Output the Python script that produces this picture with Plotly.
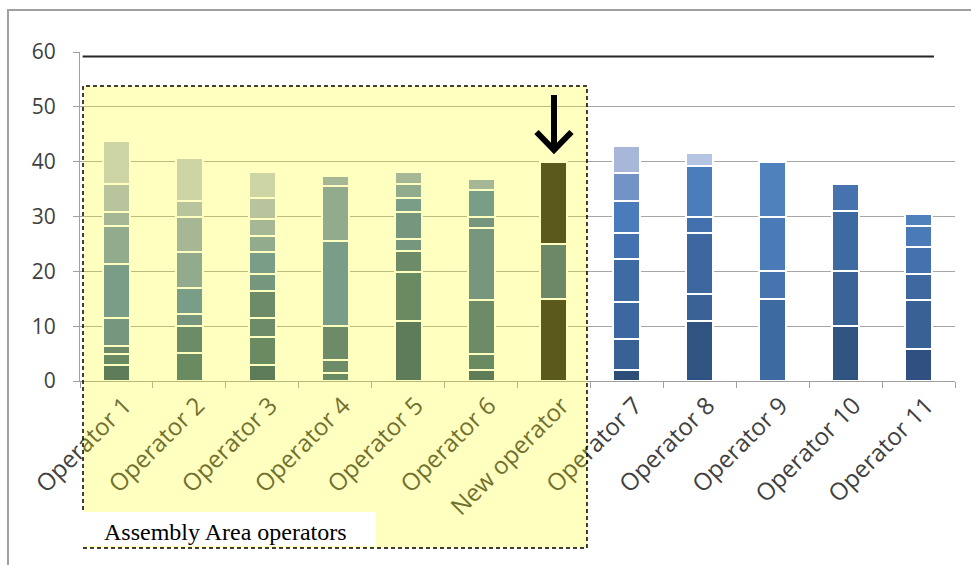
import plotly.graph_objects as go

categories = ["Operator 1", "Operator 2", "Operator 3", "Operator 4", "Operator 5",
              "Operator 6", "New operator", "Operator 7", "Operator 8", "Operator 9",
              "Operator 10", "Operator 11"]

# stacked segment values for each operator (bottom to top)
op1 = [2.9, 2.1, 1.4, 5.1, 9.9, 6.8, 2.7, 5.1, 7.8]
op2 = [5.1, 5.0, 2.2, 4.7, 6.5, 6.5, 2.9, 7.8]
op3 = [3.0, 5.0, 3.5, 5.0, 3.0, 4.0, 3.0, 3.0, 3.8, 4.8]
op4 = [1.4, 2.5, 6.1, 15.5, 10.0, 1.8]
op5 = [11.0, 8.9, 3.8, 2.2, 4.9, 2.5, 2.7, 2.2]
op6 = [2.0, 2.9, 9.8, 13.2, 2.0, 5.0, 1.9]
new_op = [15, 10, 15]
op7 = [2.0, 5.6, 6.8, 7.9, 4.7, 5.8, 5.1, 4.9]
op8 = [11.0, 4.9, 11.1, 2.9, 9.4, 2.3]
op9 = [15, 5, 10, 10]
op10 = [10, 10, 11, 5]
op11 = [5.8, 8.9, 4.8, 5.0, 3.7, 2.3]
segments = [op1, op2, op3, op4, op5, op6, new_op, op7, op8, op9, op10, op11]

y_ticks = [0, 10, 20, 30, 40, 50, 60]
box_label = "Assembly Area operators"

# segment colours (style)
D1, D2, D3 = "#295175", "#386383", "#3D6588"
T1, T2 = "#4875A9", "#4D7DB5"
L1, L2, L3, L4 = "#6F8FBC", "#889FC7", "#A0B0D0", "#BCC7DB"
colors = [
    [D1, D2, D3, T1, T2, L1, L2, L3, L4],
    [D2, D3, T1, T2, L1, L2, L3, L4],
    [D1, D2, D3, D3, T1, T2, L1, L2, L3, L4],
    [D2, D3, D3, T2, L1, L2],
    [D1, D2, D3, T1, T1, T2, L1, L2],
    [D1, D2, D3, T1, T1, T2, L2],
    ["#252326", "#3D6188", "#252326"],
    ["#2E4E7A", "#3A6196", "#3D67A0", "#3F6BA4", "#4472B0", "#4A7BBB", "#7392C6", "#A6B7D9"],
    ["#2F5482", "#3A6296", "#3D679E", "#4170AC", "#4B7DBB", "#B4C5E3"],
    ["#3E6AA2", "#4674AE", "#4A7AB8", "#4F81BD"],
    ["#2F5482", "#3A6398", "#3E6AA2", "#4672AE"],
    ["#2F5080", "#3A6196", "#3F68A0", "#4571AD", "#4A7AB8", "#4F81BD"],
]

fig = go.Figure()
max_levels = max(len(s) for s in segments)
for k in range(max_levels):
    ys = [s[k] if k < len(s) else None for s in segments]
    cs = [c[k] if k < len(c) else "#ffffff" for c in colors]
    fig.add_trace(go.Bar(
        x=categories, y=ys,
        marker=dict(color=cs, line=dict(color="white", width=2)),
        showlegend=False, hoverinfo="skip",
    ))

font_family = "Open Sans, Liberation Sans, sans-serif"
fig.update_layout(
    width=971, height=565,
    margin=dict(l=80, r=16, t=52, b=184),
    barmode="stack", bargap=0.63,
    paper_bgcolor="white", plot_bgcolor="white",
    font=dict(family=font_family, color="#404040"),
    xaxis=dict(
        type="category", tickangle=-45, tickson="boundaries",
        ticks="outside", ticklen=6, tickcolor="#A0A0A0",
        showline=True, linecolor="#A0A0A0", linewidth=1,
        showgrid=False, tickfont=dict(size=24, color="#404040"),
        ticklabelshift=8,
    ),
    yaxis=dict(
        range=[0, 60], tickvals=y_ticks, ticks="outside", ticklen=6,
        tickcolor="#A0A0A0", showline=True, linecolor="#A0A0A0", linewidth=1,
        showgrid=True, gridcolor="#A6A6A6", gridwidth=1, zeroline=False,
        tickfont=dict(size=21, color="#404040"), ticklabelstandoff=13,
    ),
)

shapes = []
# dark reference line near top
shapes.append(dict(type="line", xref="paper", yref="y", x0=0.003, x1=0.976, y0=59.2, y1=59.2,
                   line=dict(color="#262626", width=2), layer="above"))
# translucent yellow highlight
shapes.append(dict(type="rect", xref="paper", yref="paper", x0=0.00343, x1=0.5794, y0=-0.5076, y1=0.8967,
                   fillcolor="rgba(255,255,0,0.25)", line=dict(width=0), layer="above"))
# arrow pointing at new operator
shapes.append(dict(type="path", xref="paper", yref="paper",
                   path="M 0.5417,0.8693 L 0.5417,0.71 M 0.5217,0.7568 L 0.5417,0.7021 L 0.5617,0.7568",
                   line=dict(color="black", width=6), layer="above"))
# dashed border
shapes.append(dict(type="rect", xref="paper", yref="paper", x0=0.00343, x1=0.5794, y0=-0.5076, y1=0.8967,
                   fillcolor="rgba(0,0,0,0)", line=dict(color="black", width=1.5, dash="4px,3px"), layer="above"))
# white label box
shapes.append(dict(type="rect", xref="paper", yref="paper", x0=0.0011, x1=0.3383, y0=-0.5015, y1=-0.3982,
                   fillcolor="white", line=dict(width=0), layer="above"))
# outer chart border
shapes.append(dict(type="rect", xref="paper", yref="paper", x0=-0.0823, x1=1.06, y0=-0.62, y1=1.1277,
                   fillcolor="rgba(0,0,0,0)", line=dict(color="#A0A0A0", width=2), layer="above"))
fig.update_layout(shapes=shapes)

fig.add_annotation(xref="paper", yref="paper", x=0.0251, y=-0.4590, xanchor="left", yanchor="middle",
                   text=box_label, showarrow=False,
                   font=dict(family="Liberation Serif, Times New Roman, serif", size=24, color="black"))

fig.write_html("out.html")
